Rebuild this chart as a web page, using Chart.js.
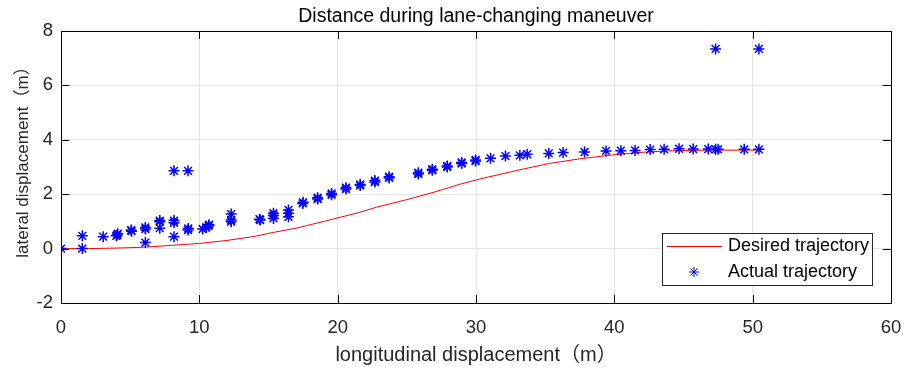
<!DOCTYPE html>
<html>
<head>
<meta charset="utf-8">
<script src="https://cdn.jsdelivr.net/npm/chart.js@4.4.1/dist/chart.umd.min.js"></script>
<style>
  html, body { margin: 0; padding: 0; background: #fff; }
  canvas { display: block; }
</style>
</head>
<body>
<canvas id="chart" width="915" height="368"></canvas>
<script>
// desired (reference) path
const desiredX = [0, 2, 4, 6, 8, 10, 12, 14, 15.4, 17, 19, 21.5, 22.8, 25, 27, 28.8, 30.2, 33.1, 35.3, 37.5, 39.8, 42, 44.2, 47, 50.4];
const desiredY = [0, 0, 0.02, 0.05, 0.12, 0.19, 0.3, 0.45, 0.6, 0.75, 1.0, 1.32, 1.52, 1.8, 2.08, 2.36, 2.55, 2.89, 3.13, 3.3, 3.44, 3.54, 3.6, 3.62, 3.62];

// measured points
const actualX = [0, 1.54, 1.54, 3.05, 4.06, 4.1, 4.0, 5.07, 5.1, 6.1, 6.1, 6.1, 7.14, 7.14, 7.14, 8.17, 8.17, 8.17, 8.17, 9.18,
  9.18, 9.2, 10.24, 10.5, 10.67, 10.7, 12.3, 12.3, 12.3, 14.35, 14.4, 15.36, 15.36, 15.36, 16.44, 16.44, 16.44, 17.47, 17.5, 18.55,
  18.55, 19.56, 19.56, 20.6, 20.6, 21.63, 21.63, 22.69, 22.69, 23.72, 23.72, 25.83, 25.83, 26.84, 26.84, 27.92, 27.92, 28.96, 28.96, 29.97,
  29.97, 31.05, 32.13, 33.17, 33.7, 35.26, 36.3, 37.85, 39.4, 40.47, 41.5, 42.59, 43.6, 44.68, 45.7, 46.79, 47.32, 47.5, 49.39, 50.45,
  47.32, 50.45];
const actualY = [0, 0.47, 0.0, 0.44, 0.5, 0.55, 0.47, 0.68, 0.64, 0.78, 0.72, 0.22, 0.99, 1.03, 0.75, 1.03, 0.95, 0.44, 2.86, 2.86,
  0.68, 0.74, 0.72, 0.78, 0.83, 0.88, 0.99, 1.05, 1.27, 1.08, 1.05, 1.3, 1.11, 1.22, 1.42, 1.17, 1.3, 1.66, 1.7, 1.82,
  1.87, 2.03, 1.98, 2.19, 2.24, 2.36, 2.32, 2.5, 2.45, 2.64, 2.6, 2.79, 2.74, 2.92, 2.88, 3.04, 3.0, 3.17, 3.13, 3.26,
  3.22, 3.32, 3.4, 3.43, 3.47, 3.5, 3.53, 3.55, 3.59, 3.6, 3.61, 3.64, 3.65, 3.67, 3.66, 3.66, 3.65, 3.65, 3.65, 3.65,
  7.34, 7.34];

const xTicks = [0, 10, 20, 30, 40, 50, 60];
const yTicks = [-2, 0, 2, 4, 6, 8];
const yTitle = 'lateral displacement（m）';

const FONT = "'Liberation Sans', Arial, 'Noto Sans CJK SC', sans-serif";

const toPoints = (xs, ys) => xs.map((x, i) => ({ x: x, y: ys[i] }));

// black box with inward ticks on all four sides
const framePlugin = {
  id: 'frame',
  afterDatasetsDraw(chart) {
    const { ctx, chartArea: a, scales } = chart;
    const len = 8;
    ctx.save();
    ctx.strokeStyle = '#000';
    ctx.lineWidth = 1;
    ctx.beginPath();
    xTicks.forEach(v => {
      const px = Math.round(scales.x.getPixelForValue(v)) + 0.5;
      ctx.moveTo(px, a.bottom); ctx.lineTo(px, a.bottom - len);
      ctx.moveTo(px, a.top); ctx.lineTo(px, a.top + len);
    });
    yTicks.forEach(v => {
      const py = Math.round(scales.y.getPixelForValue(v)) + 0.5;
      ctx.moveTo(a.left, py); ctx.lineTo(a.left + len, py);
      ctx.moveTo(a.right, py); ctx.lineTo(a.right - len, py);
    });
    ctx.stroke();
    ctx.strokeRect(Math.round(a.left) + 0.5, Math.round(a.top) + 0.5,
      Math.round(a.right - a.left), Math.round(a.bottom - a.top));
    ctx.restore();
  }
};

// rotated y title, sits a little above the axis centre like the original
const yTitlePlugin = {
  id: 'yTitle',
  afterDraw(chart) {
    const ctx = chart.ctx;
    ctx.save();
    ctx.translate(27.5, 158);
    ctx.rotate(-Math.PI / 2);
    ctx.font = '17px ' + FONT;
    ctx.fillStyle = '#262626';
    ctx.textAlign = 'center';
    ctx.textBaseline = 'alphabetic';
    ctx.fillText(yTitle, 0, 0);
    ctx.restore();
  }
};

// legend box inside the plot, lower right
const boxLegend = {
  id: 'boxLegend',
  afterDraw(chart) {
    const ctx = chart.ctx;
    const bx = 662, by = 233, bw = 210, bh = 52;
    ctx.save();
    ctx.fillStyle = '#fff';
    ctx.fillRect(bx, by, bw, bh);
    ctx.strokeStyle = '#262626';
    ctx.lineWidth = 1;
    ctx.strokeRect(bx + 0.5, by + 0.5, bw, bh);
    ctx.font = '18px ' + FONT;
    ctx.textBaseline = 'middle';
    chart.data.datasets.forEach((ds, i) => {
      const cy = by + 13 + i * 26;
      if (ds.showLine) {
        ctx.strokeStyle = ds.borderColor;
        ctx.lineWidth = ds.borderWidth;
        ctx.beginPath();
        ctx.moveTo(bx + 5, cy + 0.5);
        ctx.lineTo(bx + 60, cy + 0.5);
        ctx.stroke();
      } else {
        ctx.strokeStyle = ds.borderColor;
        Chart.helpers.drawPoint(ctx, {
          pointStyle: ds.pointStyle, radius: 5, rotation: 0, borderWidth: 1
        }, bx + 32, cy);
      }
      ctx.fillStyle = '#000';
      ctx.fillText(ds.label, bx + 66, cy);
    });
    ctx.restore();
  }
};

new Chart(document.getElementById('chart'), {
  type: 'scatter',
  data: {
    datasets: [
      {
        label: 'Desired trajectory',
        data: toPoints(desiredX, desiredY),
        showLine: true,
        borderColor: '#ff0000',
        borderWidth: 1,
        pointRadius: 0,
        order: 1,
      },
      {
        label: 'Actual trajectory',
        data: toPoints(actualX, actualY),
        showLine: false,
        pointStyle: 'star',
        pointRadius: 5.5,
        borderColor: '#0000ff',
        backgroundColor: '#0000ff',
        borderWidth: 1.5,
        order: 0,
      },
    ],
  },
  options: {
    responsive: false,
    animation: false,
    layout: { padding: { left: 0, right: 24, top: 0, bottom: 0 } },
    scales: {
      x: {
        type: 'linear',
        min: 0,
        max: 60,
        afterBuildTicks: s => { s.ticks = xTicks.map(v => ({ value: v })); },
        afterFit: s => { s.height = 65; },
        grid: { color: '#e6e6e6', drawTicks: false },
        border: { display: false },
        ticks: { color: '#262626', font: { family: FONT, size: 18.5 }, padding: 13.5, maxRotation: 0 },
        title: {
          display: true,
          text: 'longitudinal displacement（m）',
          color: '#262626',
          font: { family: FONT, size: 20 },
          padding: { top: 0, bottom: 0.5 },
        },
      },
      y: {
        type: 'linear',
        min: -2,
        max: 8,
        afterBuildTicks: s => { s.ticks = yTicks.map(v => ({ value: v })); },
        afterFit: s => { s.width = 61; },
        grid: { color: '#e6e6e6', drawTicks: false },
        border: { display: false },
        ticks: { color: '#262626', font: { family: FONT, size: 18.5 }, padding: 8 },
        title: { display: false },
      },
    },
    plugins: {
      legend: { display: false },
      tooltip: { enabled: false },
      title: {
        display: true,
        fullSize: false,
        text: 'Distance during lane-changing maneuver',
        color: '#000',
        font: { family: FONT, size: 19.5, weight: 'normal' },
        padding: { top: 5, bottom: 2.6 },
      },
    },
  },
  plugins: [framePlugin, yTitlePlugin, boxLegend],
});
</script>
</body>
</html>
